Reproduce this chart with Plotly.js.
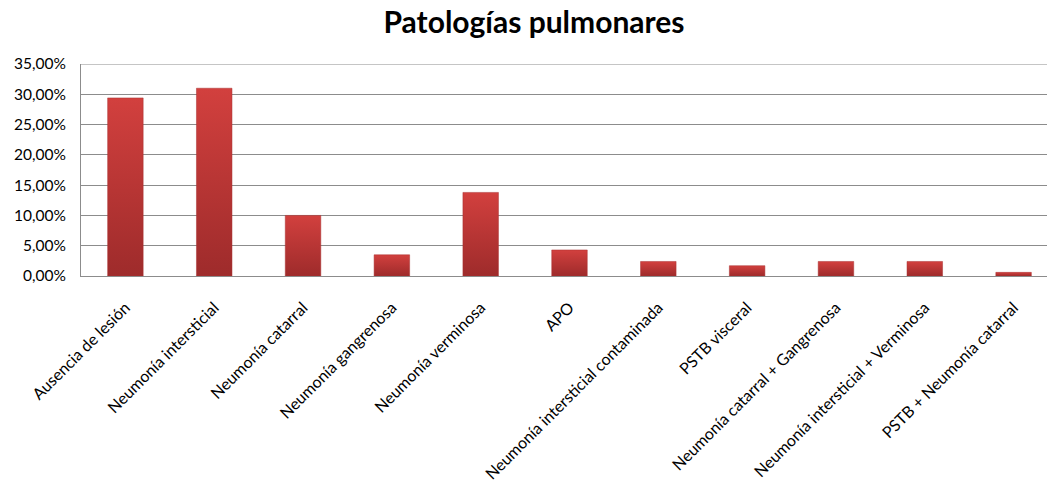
<!DOCTYPE html>
<html><head><meta charset="utf-8">
<script src="https://cdn.plot.ly/plotly-3.0.1.min.js"></script>
<style>html,body{margin:0;padding:0;background:#fff;overflow:hidden}#chart{width:1058px;height:487px}</style>
</head><body><div id="chart"></div>
<script>
const categories = ["Ausencia de lesión","Neumonía intersticial","Neumonía catarral","Neumonía gangrenosa","Neumonía verminosa","APO","Neumonía intersticial contaminada","PSTB visceral","Neumonía catarral + Gangrenosa","Neumonía intersticial + Verminosa","PSTB + Neumonía catarral"];
const values = [0.294, 0.310, 0.100, 0.035, 0.138, 0.043, 0.024, 0.017, 0.024, 0.024, 0.006];
const yTicks = [0, 0.05, 0.10, 0.15, 0.20, 0.25, 0.30, 0.35];

const trace = {
  type: 'bar', x: categories, y: values,
  marker: {color: '#bd3535', line: {color: '#a83030', width: 0.5}},
  hoverinfo: 'skip'
};
const layout = {
  width: 1058, height: 487,
  margin: {l: 81, r: 0, t: 64, b: 211},
  paper_bgcolor: '#fff', plot_bgcolor: '#fff',
  separators: ',.',
  bargap: 0.6,
  showlegend: false,
  title: {text: '<b>Patologías pulmonares</b>', x: 534/1058, xanchor: 'center', y: 1 - 22/487, yanchor: 'middle',
          font: {family: 'Lato, sans-serif', size: 30, color: '#000'}},
  font: {family: 'Lato, sans-serif', size: 15, color: '#000'},
  xaxis: {tickangle: -45, showline: true, linecolor: '#8c8c8c', linewidth: 1, ticks: '', showgrid: false,
          ticklabelshift: 0, ticklabelstandoff: 15,
          tickfont: {family: 'Lato, sans-serif', size: 16, color: '#000'}, automargin: false},
  yaxis: {range: [0, 0.35], tickvals: yTicks, tickformat: '.2%', showline: true, linecolor: '#8c8c8c', linewidth: 1,
          gridcolor: '#8c8c8c', gridwidth: 1, zeroline: false, ticks: '', ticklen: 0, ticklabelstandoff: 11,
          tickfont: {family: 'Lato, sans-serif', size: 15.5, color: '#000'}, automargin: false},
  shapes: [{type: 'line', xref: 'paper', yref: 'y', x0: 0, x1: 1, y0: 0.35, y1: 0.35, line: {color: '#8c8c8c', width: 1}}]
};
Plotly.newPlot('chart', [trace], layout, {displayModeBar: false, staticPlot: true}).then(gd => {
  const svg = gd.querySelector('svg.main-svg');
  const ns = 'http://www.w3.org/2000/svg';
  let defs = svg.querySelector('defs');
  const g = document.createElementNS(ns, 'linearGradient');
  g.setAttribute('id', 'barGrad');
  g.setAttribute('x1', '0'); g.setAttribute('y1', '0'); g.setAttribute('x2', '0'); g.setAttribute('y2', '1');
  [['0', '#d2403e'], ['1', '#9e2b2b']].forEach(([o, c]) => {
    const s = document.createElementNS(ns, 'stop');
    s.setAttribute('offset', o); s.setAttribute('stop-color', c);
    g.appendChild(s);
  });
  defs.appendChild(g);
  gd.querySelectorAll('.bars .point path').forEach(p => { p.style.fill = 'url(#barGrad)'; });
});
</script></body></html>
